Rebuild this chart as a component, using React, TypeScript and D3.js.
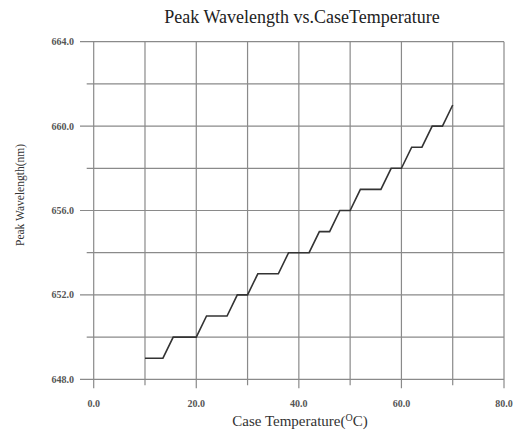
import React from 'react'
import * as d3 from 'd3'

// step curve
const temperatures = [10, 13.5, 15.5, 20, 22, 26, 28, 30, 32, 36, 38, 42, 44, 46, 48, 50, 52, 56, 58, 60, 62, 64, 66, 68, 70]
const wavelengths = [649, 649, 650, 650, 651, 651, 652, 652, 653, 653, 654, 654, 655, 655, 656, 656, 657, 657, 658, 658, 659, 659, 660, 660, 661]

const xTicks = [0, 10, 20, 30, 40, 50, 60, 70, 80]
const xLabelTicks = [0, 20, 40, 60, 80]
const yMajorTicks = [648, 652, 656, 660, 664]
const yMinorTicks = [650, 654, 658, 662]

const W = 518
const H = 431

const App = () => {
    const x = d3.scaleLinear().domain([0, 80]).range([93.7, 504])
    const y = d3.scaleLinear().domain([648, 664]).range([379.3, 41.7])

    const pts = temperatures.map((t, i) => [t, wavelengths[i]] as [number, number])
    const line = d3
        .line<[number, number]>()
        .x((d) => x(d[0]))
        .y((d) => y(d[1]))

    const grid = '#8a8a8a'
    const labelColor = '#555'

    return (
        <svg
            width={W}
            height={H}
            style={{ position: 'absolute', left: 0, top: 0, background: '#fff' }}
            fontFamily="'Liberation Serif', 'DejaVu Serif', serif"
        >
            <text x={302} y={23} textAnchor="middle" fontSize={18} fill="#222">
                Peak Wavelength vs.CaseTemperature
            </text>

            {/* horizontal grid */}
            {yMajorTicks.map((v) => (
                <line key={'ym' + v} x1={80} x2={x(80)} y1={y(v)} y2={y(v)} stroke={grid} strokeWidth={1.2} />
            ))}
            {yMinorTicks.map((v) => (
                <line key={'yn' + v} x1={86.7} x2={x(80)} y1={y(v)} y2={y(v)} stroke={grid} strokeWidth={1.2} />
            ))}

            {/* vertical grid + ticks */}
            {xTicks.map((v) => (
                <line
                    key={'x' + v}
                    x1={x(v)}
                    x2={x(v)}
                    y1={y(664)}
                    y2={y(648) + (v % 20 === 0 ? 9 : 6)}
                    stroke={grid}
                    strokeWidth={1.2}
                />
            ))}

            {yMajorTicks.map((v) => (
                <text key={'yl' + v} x={74} y={y(v)} dy="0.35em" textAnchor="end" fontSize={10} fontWeight="bold" fill={labelColor}>
                    {v.toFixed(1)}
                </text>
            ))}
            {xLabelTicks.map((v) => (
                <text key={'xl' + v} x={x(v)} y={407} textAnchor="middle" fontSize={10} fontWeight="bold" fill={labelColor}>
                    {v.toFixed(1)}
                </text>
            ))}

            <path d={line(pts) || ''} fill="none" stroke="#333" strokeWidth={1.6} />

            <text x={300} y={426} textAnchor="middle" fontSize={15} fill="#333">
                Case Temperature(
                <tspan fontSize={10} dy={-5}>O</tspan>
                <tspan dy={5}>C)</tspan>
            </text>

            <text transform="translate(24,195) rotate(-90)" textAnchor="middle" fontSize={11.5} fill="#333">
                Peak Wavelength(nm)
            </text>
        </svg>
    )
}

export default App
